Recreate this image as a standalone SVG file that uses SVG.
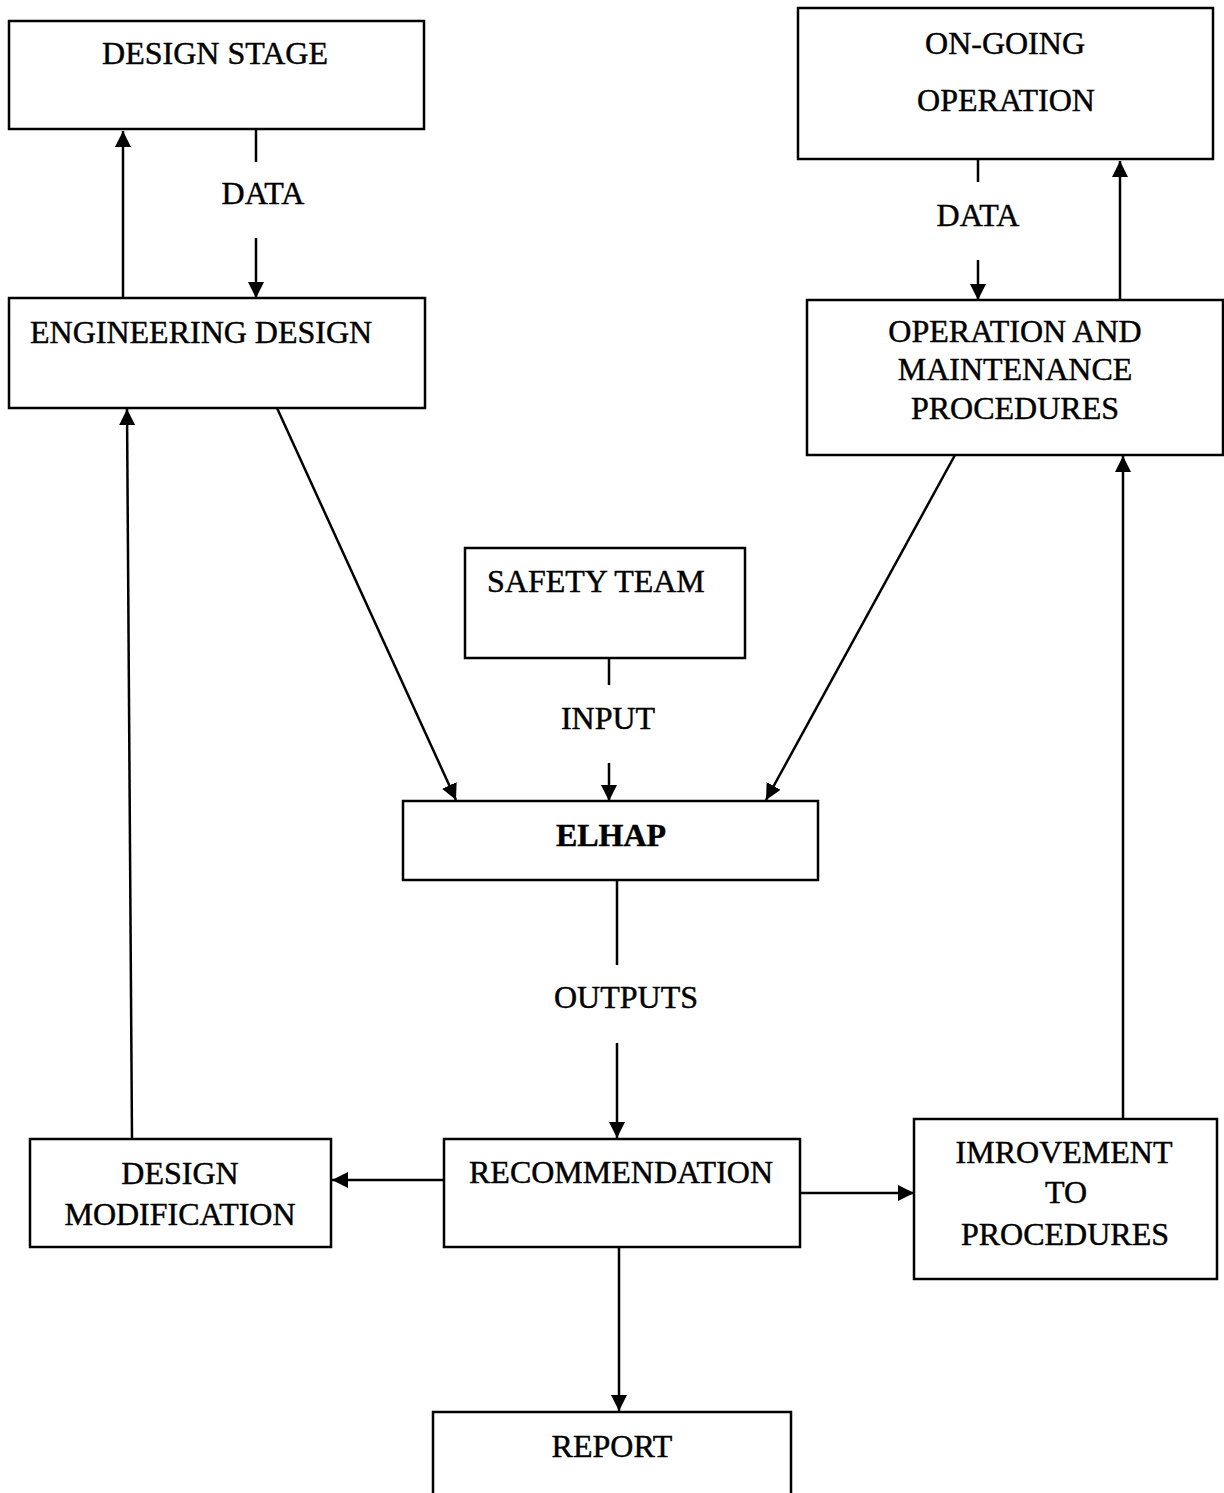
<svg xmlns="http://www.w3.org/2000/svg" width="1224" height="1493" viewBox="0 0 1224 1493">
<style>
.box{fill:#fff;stroke:#000;stroke-width:2.5}
.t{font-family:"Liberation Serif","Times New Roman",serif;font-size:32px;fill:#000;stroke:#000;stroke-width:0.45}
.c{text-anchor:middle}
.b{font-weight:bold}
.ln{stroke:#000;stroke-width:2.5;fill:none}
</style>
<defs>
<marker id="ah" markerUnits="userSpaceOnUse" markerWidth="18" markerHeight="16" refX="16" refY="8" orient="auto">
<path d="M0,0 L16,8 L0,16 Z" fill="#000"/>
</marker>
</defs>
<rect width="1224" height="1493" fill="#fff"/>
<g id="connectors">
<line class="ln" x1="123" y1="298" x2="123" y2="131" marker-end="url(#ah)"/>
<line class="ln" x1="256" y1="129" x2="256" y2="162"/>
<line class="ln" x1="256" y1="238" x2="256" y2="298" marker-end="url(#ah)"/>
<line class="ln" x1="978" y1="160" x2="978" y2="182"/>
<line class="ln" x1="978" y1="260" x2="978" y2="300" marker-end="url(#ah)"/>
<line class="ln" x1="1120" y1="300" x2="1120" y2="161" marker-end="url(#ah)"/>
<line class="ln" x1="277" y1="408" x2="456" y2="800" marker-end="url(#ah)"/>
<line class="ln" x1="955" y1="455" x2="766" y2="800" marker-end="url(#ah)"/>
<line class="ln" x1="609" y1="658" x2="609" y2="685"/>
<line class="ln" x1="609" y1="763" x2="609" y2="801" marker-end="url(#ah)"/>
<line class="ln" x1="617" y1="880" x2="617" y2="965"/>
<line class="ln" x1="617" y1="1043" x2="617" y2="1138" marker-end="url(#ah)"/>
<line class="ln" x1="444" y1="1180" x2="332" y2="1180" marker-end="url(#ah)"/>
<line class="ln" x1="800" y1="1193" x2="914" y2="1193" marker-end="url(#ah)"/>
<line class="ln" x1="619" y1="1247" x2="619" y2="1411" marker-end="url(#ah)"/>
<line class="ln" x1="1123" y1="1119" x2="1123" y2="456" marker-end="url(#ah)"/>
<line class="ln" x1="132" y1="1139" x2="127" y2="409" marker-end="url(#ah)"/>
</g>
<g id="design-stage">
<rect class="box" x="9" y="21" width="415" height="108"/>
<text class="t c" x="215" y="64">DESIGN STAGE</text>
</g>
<g id="data-label-left">
<text class="t c" x="263" y="204">DATA</text>
</g>
<g id="engineering-design">
<rect class="box" x="9" y="298" width="416" height="110"/>
<text class="t" x="30" y="343">ENGINEERING DESIGN</text>
</g>
<g id="on-going-operation">
<rect class="box" x="798" y="8" width="415" height="151"/>
<text class="t c" x="1005" y="54">ON-GOING</text>
<text class="t c" x="1006" y="111">OPERATION</text>
</g>
<g id="data-label-right">
<text class="t c" x="978" y="226">DATA</text>
</g>
<g id="operation-maintenance">
<rect class="box" x="807" y="300" width="416" height="155"/>
<text class="t c" x="1015" y="342">OPERATION AND</text>
<text class="t c" x="1015" y="380">MAINTENANCE</text>
<text class="t c" x="1015" y="419">PROCEDURES</text>
</g>
<g id="safety-team">
<rect class="box" x="465" y="548" width="280" height="110"/>
<text class="t" x="487" y="592">SAFETY TEAM</text>
</g>
<g id="input-label">
<text class="t c" x="608" y="729">INPUT</text>
</g>
<g id="elhap">
<rect class="box" x="403" y="801" width="415" height="79"/>
<text class="t c b" x="611" y="846">ELHAP</text>
</g>
<g id="outputs-label">
<text class="t c" x="626" y="1008">OUTPUTS</text>
</g>
<g id="design-modification">
<rect class="box" x="30" y="1139" width="301" height="108"/>
<text class="t c" x="180" y="1184">DESIGN</text>
<text class="t c" x="180" y="1225">MODIFICATION</text>
</g>
<g id="recommendation">
<rect class="box" x="444" y="1139" width="356" height="108"/>
<text class="t c" x="621" y="1183">RECOMMENDATION</text>
</g>
<g id="improvement">
<rect class="box" x="914" y="1119" width="303" height="160"/>
<text class="t c" x="1064" y="1163">IMROVEMENT</text>
<text class="t c" x="1066" y="1203">TO</text>
<text class="t c" x="1065" y="1245">PROCEDURES</text>
</g>
<g id="report">
<rect class="box" x="433" y="1412" width="358" height="100"/>
<text class="t c" x="612" y="1457">REPORT</text>
</g>
</svg>
